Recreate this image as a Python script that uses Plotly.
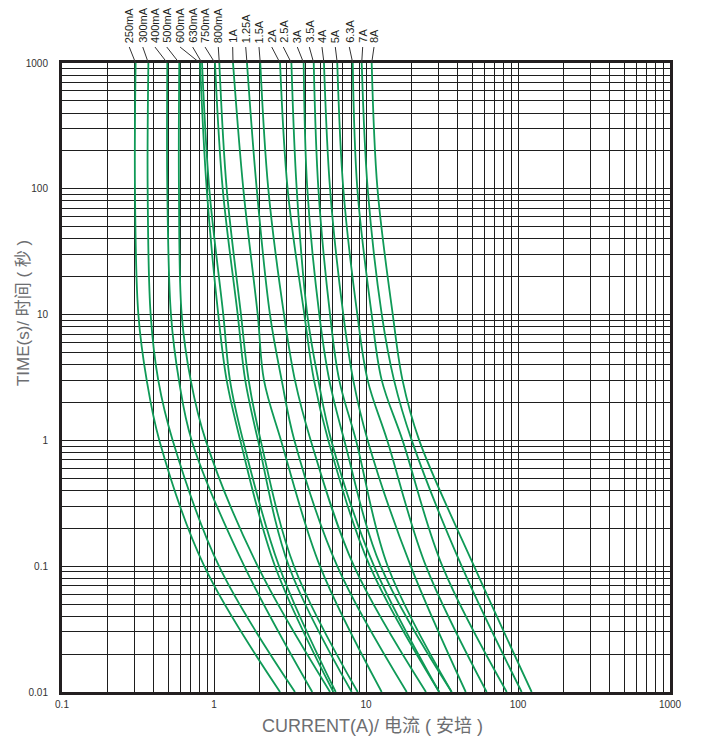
import math
import plotly.graph_objects as go

# time axis points (seconds) at which currents were read
times = [1000, 100, 10, 3, 1, 0.1, 0.01]

ratings = ["250mA", "300mA", "400mA", "500mA", "600mA", "630mA", "750mA", "800mA",
           "1A", "1.25A", "1.5A", "2A", "2.5A", "3A", "3.5A", "4A", "5A", "6.3A", "7A", "8A"]

# current (A) for each fuse rating at the times above
i_250mA = [0.305, 0.302, 0.318, 0.361, 0.437, 0.863, 2.72]
i_300mA = [0.370, 0.366, 0.383, 0.430, 0.535, 1.079, 3.41]
i_400mA = [0.493, 0.493, 0.521, 0.588, 0.713, 1.582, 4.43]
i_500mA = [0.591, 0.588, 0.613, 0.703, 0.882, 1.939, 5.80]
i_600mA = [0.809, 0.895, 1.067, 1.212, 1.489, 2.52, 6.10]
i_630mA = [0.834, 0.931, 1.151, 1.274, 1.552, 2.68, 6.32]
i_750mA = [1.015, 1.141, 1.432, 1.606, 1.948, 3.11, 8.05]
i_800mA = [1.084, 1.212, 1.505, 1.691, 2.028, 3.36, 8.82]
i_1A = [1.334, 1.559, 1.939, 2.133, 2.76, 4.98, 12.68]
i_1_25A = [1.648, 1.910, 2.335, 2.79, 3.38, 6.47, 18.53]
i_1_5A = [2.016, 2.276, 2.887, 3.41, 4.33, 8.34, 24.8]
i_2A = [2.72, 3.05, 3.93, 4.55, 5.65, 10.6, 30.3]
i_2_5A = [3.23, 3.50, 4.11, 4.86, 5.91, 11.3, 30.3]
i_3A = [3.89, 4.11, 4.93, 5.74, 7.20, 12.5, 36.6]
i_3_5A = [4.53, 4.86, 5.80, 6.67, 8.60, 13.9, 36.6]
i_4A = [5.29, 5.80, 7.09, 8.25, 10.26, 19.7, 45.3]
i_5A = [6.47, 7.09, 8.77, 10.26, 13.8, 24.8, 62.2]
i_6_3A = [8.18, 8.77, 10.9, 12.7, 17.4, 31.8, 84.3]
i_7A = [9.37, 10.26, 12.7, 15.3, 20.0, 42.6, 105.7]
i_8A = [10.9, 11.9, 15.0, 17.4, 22.4, 51.4, 123.0]

# where each rating label sits along the current axis (A)
label_current = [0.277, 0.340, 0.409, 0.489, 0.598, 0.724, 0.873, 1.067, 1.327, 1.617,
                 1.977, 2.398, 2.857, 3.532, 4.236, 5.134, 6.281, 7.766, 9.51, 11.29]

x_ticks = [0.1, 1, 10, 100, 1000]
x_ticktext = ["0.1", "1", "10", "100", "1000"]
y_ticks = [0.01, 0.1, 1, 10, 100, 1000]
y_ticktext = ["0.01", "0.1", "1", "10", "100", "1000"]

currents = [i_250mA, i_300mA, i_400mA, i_500mA, i_600mA, i_630mA, i_750mA, i_800mA,
            i_1A, i_1_25A, i_1_5A, i_2A, i_2_5A, i_3A, i_3_5A, i_4A, i_5A, i_6_3A, i_7A, i_8A]

GREEN = "#0f9a57"
GRID = "#1e1e1e"
FONT = "Liberation Sans, Arial, Noto Sans CJK SC, sans-serif"

fig = go.Figure()
for name, cur in zip(ratings, currents):
    fig.add_trace(go.Scatter(
        x=cur, y=times, mode="lines", name=name,
        line=dict(color=GREEN, width=1.8, shape="spline", smoothing=1.0),
        showlegend=False, hoverinfo="skip"))

minor_x = [k * 10 ** e for e in range(-1, 3) for k in range(2, 10)]
minor_y = [k * 10 ** e for e in range(-2, 3) for k in range(2, 10)]

axis_common = dict(
    type="log", showgrid=True, gridcolor=GRID, gridwidth=1,
    showline=True, linecolor="#231f20", linewidth=3, mirror=True,
    ticks="", zeroline=False,
    tickfont=dict(size=10, color="#333333", family=FONT),
)
fig.update_xaxes(range=[-1, 3], tickmode="array", tickvals=x_ticks, ticktext=x_ticktext,
                 minor=dict(tickmode="array", tickvals=minor_x, showgrid=True,
                            gridcolor=GRID, gridwidth=1, ticks=""),
                 ticklabelstandoff=1, **axis_common)
fig.update_yaxes(range=[-2, 3], tickmode="array", tickvals=y_ticks, ticktext=y_ticktext,
                 minor=dict(tickmode="array", tickvals=minor_y, showgrid=True,
                            gridcolor=GRID, gridwidth=1, ticks=""),
                 ticklabelstandoff=9, **axis_common)

# rating labels with leader lines to the top of each curve
for name, lx, cur in zip(ratings, label_current, currents):
    fig.add_annotation(x=math.log10(lx), xref="x", y=1.0286, yref="paper",
                       text=name, textangle=-90, showarrow=False,
                       xanchor="center", yanchor="bottom",
                       font=dict(size=11, color="#231f20", family=FONT))
    fig.add_shape(type="line", xref="x", yref="paper",
                  x0=lx, y0=1.0254, x1=cur[0], y1=1.0,
                  line=dict(color="#333333", width=1))

fig.add_annotation(text="CURRENT(A)/ 电流 ( 安培 )", xref="paper", yref="paper",
                   x=0.51, y=-0.054, showarrow=False, xanchor="center", yanchor="middle",
                   font=dict(size=18, color="#6d6e71", family=FONT))
fig.add_annotation(text="TIME(s)/ 时间 ( 秒 )", xref="paper", yref="paper",
                   x=-0.064, y=0.6025, showarrow=False, textangle=-90,
                   xanchor="center", yanchor="middle",
                   font=dict(size=17, color="#6d6e71", family=FONT))

fig.update_layout(
    width=703, height=738,
    margin=dict(l=62, r=33, t=63, b=46),
    plot_bgcolor="white", paper_bgcolor="white",
)

fig.write_html("out.html", config={"displayModeBar": False},
               post_script="document.body.style.margin='0px';")
